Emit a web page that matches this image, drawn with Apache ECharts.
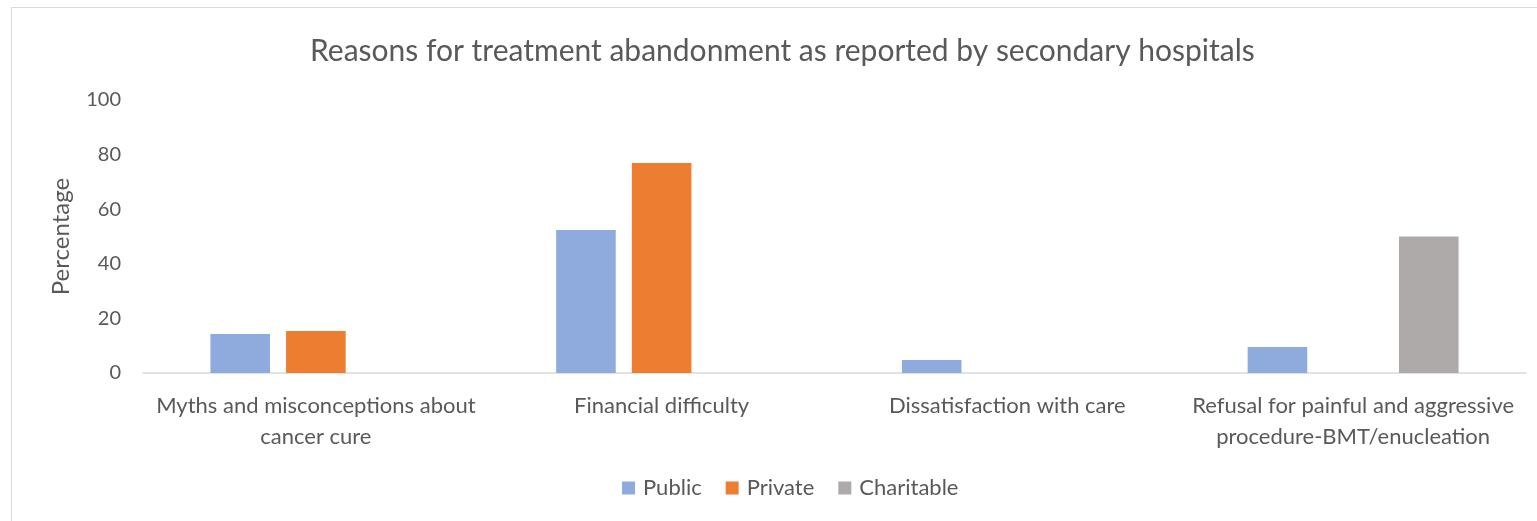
<!DOCTYPE html>
<html>
<head>
<meta charset="utf-8">
<script src="https://cdn.jsdelivr.net/npm/echarts@6/dist/echarts.min.js"></script>
<style>
  html, body { margin: 0; padding: 0; background: #ffffff; }
  #chart { width: 1537px; height: 521px; }
</style>
</head>
<body>
<div id="chart"></div>
<script>
// Reasons reported, one entry per category (line breaks as displayed)
const categories = [
  'Myths and misconceptions about\ncancer cure',
  'Financial difficulty',
  'Dissatisfaction with care',
  'Refusal for painful and aggressive\nprocedure-BMT/enucleation'
];
const seriesNames = ['Public', 'Private', 'Charitable'];
// Percentage of hospitals reporting each reason, by hospital type
const publicValues = [14.3, 52.4, 4.8, 9.5];
const privateValues = [15.4, 76.9, 0, 0];
const charitableValues = [0, 0, 0, 50];
const yTicks = { min: 0, max: 100, interval: 20 };

const FONT = 'Lato, "Liberation Sans", sans-serif';
const TEXT = '#595959';

const chart = echarts.init(document.getElementById('chart'), null, { renderer: 'canvas' });

const barStyle = (color) => ({ color: color });

chart.setOption({
  animation: false,
  backgroundColor: '#ffffff',
  textStyle: { fontFamily: FONT, color: TEXT },
  title: {
    text: 'Reasons for treatment abandonment as reported by secondary hospitals',
    left: 305,
    top: 31,
    textStyle: { fontFamily: FONT, fontSize: 30, fontWeight: 'normal', color: TEXT }
  },
  legend: {
    data: seriesNames,
    bottom: 17,
    left: 617,
    icon: 'rect',
    itemWidth: 13,
    itemHeight: 13,
    itemGap: 24,
    textStyle: { fontFamily: FONT, fontSize: 22, color: TEXT, padding: [0, 0, 0, 3] }
  },
  grid: { left: 143, right: 11, top: 100, bottom: 148, containLabel: false },
  xAxis: {
    type: 'category',
    data: categories,
    axisLine: { show: true, lineStyle: { color: '#d9d9d9', width: 1.5 } },
    axisTick: { show: false },
    axisLabel: {
      interval: 0,
      margin: 17,
      fontFamily: FONT,
      fontSize: 22,
      lineHeight: 31,
      color: TEXT
    }
  },
  yAxis: {
    type: 'value',
    min: yTicks.min,
    max: yTicks.max,
    interval: yTicks.interval,
    name: 'Percentage',
    nameLocation: 'middle',
    nameGap: 70,
    nameRotate: 90,
    nameTextStyle: { fontFamily: FONT, fontSize: 24, color: TEXT },
    axisLine: { show: false },
    axisTick: { show: false },
    splitLine: { show: false },
    axisLabel: { margin: 22, fontFamily: FONT, fontSize: 20, color: TEXT }
  },
  series: [
    { name: seriesNames[0], type: 'bar', data: publicValues, itemStyle: barStyle('#8faadc'),
      barGap: '27%', barCategoryGap: '39%' },
    { name: seriesNames[1], type: 'bar', data: privateValues, itemStyle: barStyle('#ed7d31'),
      barGap: '27%', barCategoryGap: '39%' },
    { name: seriesNames[2], type: 'bar', data: charitableValues, itemStyle: barStyle('#aeaaaa'),
      barGap: '27%', barCategoryGap: '39%' }
  ],
  graphic: [{
    type: 'rect',
    shape: { x: 11.5, y: 7.5, width: 1540, height: 530 },
    style: { fill: null, stroke: '#d9d9d9', lineWidth: 1 },
    silent: true
  }]
});
</script>
</body>
</html>
